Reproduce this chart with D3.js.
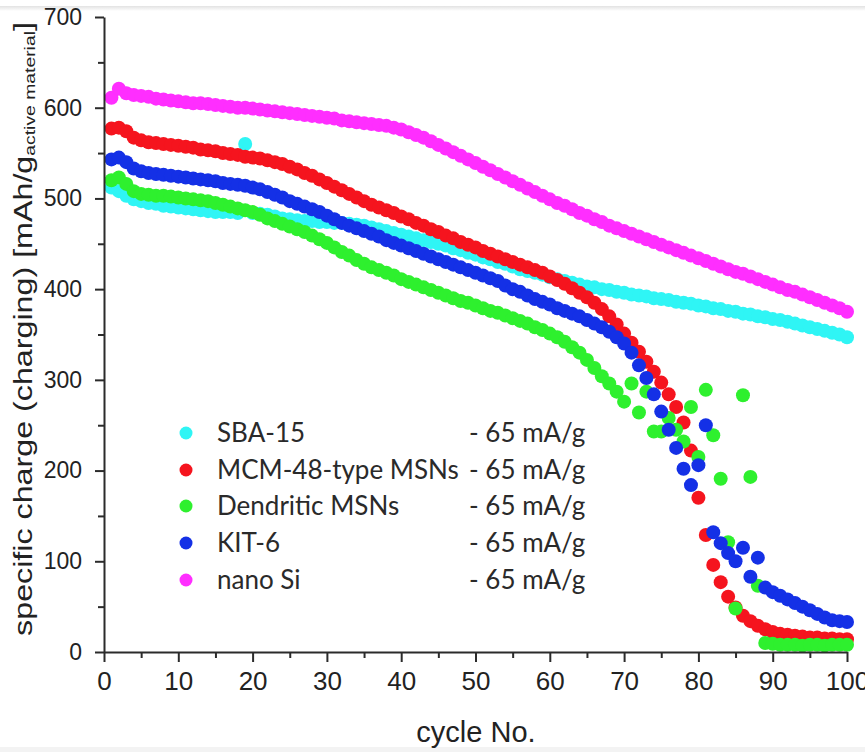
<!DOCTYPE html>
<html>
<head>
<meta charset="utf-8">
<script src="https://cdn.jsdelivr.net/npm/d3@7"></script>
<style>
  html, body { margin: 0; padding: 0; background: #fff; }
  svg { display: block; }
</style>
</head>
<body>
<svg id="chart" width="865" height="752"></svg>
<script>
// Charging capacity per cycle for each anode material (mAh/g of active material)
const cycles = d3.range(1, 101);

const sba15 = [
  512, 508, 503, 499, 497, 495, 494, 492, 491, 490,
  489, 488, 487, 486, 485, 485, 485, 484, 560, 484,
  483, 482, 480, 478, 477, 476, 475, 475, 474, 474,
  473, 473, 472, 471, 470, 468, 466, 464, 462, 460,
  458, 456, 454, 452, 450, 448, 445, 443, 440, 438,
  435, 433, 430, 428, 425, 422, 420, 418, 416, 413,
  411, 409, 407, 405, 403, 402, 400, 399, 397, 396,
  394, 393, 392, 390, 389, 388, 386, 385, 384, 382,
  381, 379, 378, 376, 375, 373, 372, 370, 369, 367,
  366, 364, 362, 360, 358, 356, 354, 352, 350, 347
];

const mcm48 = [
  577, 578, 574, 567, 564, 562, 561, 560, 559, 558,
  557, 556, 554, 553, 552, 550, 549, 548, 546, 545,
  544, 542, 540, 538, 535, 532, 528, 525, 521, 517,
  513, 509, 505, 501, 497, 493, 490, 487, 484, 480,
  477, 473, 470, 466, 463, 459, 456, 452, 449, 446,
  442, 439, 436, 433, 430, 427, 424, 421, 418, 414,
  410, 406, 401, 396, 391, 385, 378, 370, 361, 351,
  341, 331, 320, 309, 297, 284, 270, 253, 222, 170,
  129, 96, 77, 61, 49, 40, 34, 29, 25, 22,
  20, 19, 18, 17, 16, 16, 15, 15, 14, 14
];

const dendritic = [
  520, 523, 516, 508, 505, 504, 503, 503, 502, 501,
  500, 499, 498, 497, 495, 493, 491, 489, 487, 485,
  482, 478, 475, 472, 469, 466, 463, 459, 455, 451,
  446, 441, 437, 432, 428, 424, 421, 418, 415, 411,
  408, 405, 402, 399, 396, 393, 390, 387, 385, 382,
  379, 376, 374, 371, 368, 365, 362, 358, 355, 351,
  347, 342, 336, 330, 322, 313, 304, 296, 287, 276,
  296, 264, 287, 243, 243, 258, 245, 232, 270, 215,
  289, 239, 191, 121, 48, 283, 193, 73, 10, 9,
  8, 8, 8, 7, 8, 8, 7, 8, 8, 8
];

const kit6 = [
  543, 545, 540, 533, 530, 528, 527, 526, 525, 524,
  523, 522, 521, 520, 519, 517, 516, 515, 514, 512,
  510, 507, 504, 501, 497, 494, 491, 488, 485, 481,
  477, 473, 470, 467, 464, 461, 458, 454, 451, 448,
  445, 442, 439, 436, 433, 430, 427, 424, 421, 418,
  415, 412, 409, 404, 400, 397, 393, 389, 386, 383,
  379, 376, 373, 370, 366, 362, 358, 353, 347, 340,
  330, 316, 302, 284, 265, 245, 225, 202, 184, 206,
  250, 132, 120, 109, 100, 115, 83, 104, 71, 66,
  62, 58, 54, 50, 46, 42, 38, 35, 34, 33
];

const nanoSi = [
  611, 621, 616, 614, 613, 612, 610, 609, 608, 607,
  606, 605, 605, 604, 603, 602, 601, 600, 600, 599,
  598, 597, 596, 595, 594, 593, 592, 591, 590, 589,
  588, 586, 585, 584, 583, 582, 581, 580, 578, 576,
  573, 570, 567, 563, 559, 555, 551, 547, 543, 539,
  535, 531, 527, 523, 519, 515, 511, 507, 503, 499,
  495, 492, 488, 484, 481, 477, 474, 470, 467, 464,
  461, 458, 455, 452, 449, 446, 443, 440, 437, 434,
  431, 428, 425, 422, 419, 417, 414, 411, 408, 405,
  402, 399, 397, 394, 391, 388, 385, 382, 379, 375
];

const seriesNames = ["SBA-15", "MCM-48-type MSNs", "Dendritic MSNs", "KIT-6", "nano Si"];
const seriesColors = ["#2ff5f5", "#f5141e", "#2ef02e", "#1430e6", "#ff2eff"];
const seriesValues = [sba15, mcm48, dendritic, kit6, nanoSi];
const currentLabel = "- 65 mA/g";

const xMajorTicks = [0, 10, 20, 30, 40, 50, 60, 70, 80, 90, 100];
const xMinorTicks = [5, 15, 25, 35, 45, 55, 65, 75, 85, 95];
const yMajorTicks = [0, 100, 200, 300, 400, 500, 600, 700];
const yMinorTicks = [50, 150, 250, 350, 450, 550, 650];

const svg = d3.select("#chart");

// thin page rule along the top edge and pale strip along the bottom
const defs = svg.append("defs");
const grad = defs.append("linearGradient").attr("id", "topShade")
  .attr("x1", 0).attr("y1", 0).attr("x2", 0).attr("y2", 1);
grad.append("stop").attr("offset", "0%").attr("stop-color", "#e2e2e2");
grad.append("stop").attr("offset", "100%").attr("stop-color", "#ffffff");
svg.append("rect").attr("x", 0).attr("y", 6).attr("width", 865).attr("height", 5)
  .attr("fill", "url(#topShade)");
svg.append("rect").attr("x", 0).attr("y", 747).attr("width", 865).attr("height", 5)
  .attr("fill", "#f3f3f3");

const x = d3.scaleLinear().domain([0, 100]).range([104, 847]);
const y = d3.scaleLinear().domain([0, 700]).range([652, 17]);

const axisColor = "#2b2b2b";
const tickFont = "'Liberation Sans', Arial, sans-serif";

// data markers, drawn in legend order
const dotR = 7;
seriesValues.forEach((vals, i) => {
  svg.append("g")
    .selectAll("circle")
    .data(vals)
    .join("circle")
    .attr("cx", (d, j) => x(cycles[j]))
    .attr("cy", d => y(d))
    .attr("r", dotR)
    .attr("fill", seriesColors[i]);
});

// y axis
const yAxis = svg.append("g").attr("transform", "translate(104,0)")
  .call(d3.axisLeft(y).tickValues(yMajorTicks).tickSize(9).tickSizeOuter(0).tickPadding(13));
svg.append("g").attr("transform", "translate(104,0)")
  .call(d3.axisLeft(y).tickValues(yMinorTicks).tickSize(6).tickSizeOuter(0).tickFormat(""))
  .select(".domain").remove();

// x axis
const xAxis = svg.append("g").attr("transform", "translate(0,652)")
  .call(d3.axisBottom(x).tickValues(xMajorTicks).tickSize(10).tickSizeOuter(0).tickPadding(10));
svg.append("g").attr("transform", "translate(0,652)")
  .call(d3.axisBottom(x).tickValues(xMinorTicks).tickSize(6).tickSizeOuter(0).tickFormat(""))
  .select(".domain").remove();

svg.selectAll(".domain").attr("stroke", axisColor).attr("stroke-width", 2);
svg.selectAll(".tick line").attr("stroke", axisColor).attr("stroke-width", 2);
yAxis.selectAll(".tick text").attr("font-family", tickFont).attr("font-size", 23)
  .attr("fill", "#222");
xAxis.selectAll(".tick text").attr("font-family", tickFont).attr("font-size", 26)
  .attr("fill", "#222");

// axis titles
svg.append("text")
  .attr("x", 476).attr("y", 742)
  .attr("text-anchor", "middle")
  .attr("font-family", tickFont).attr("font-size", 29).attr("fill", "#222")
  .text("cycle No.");

// the vertical title is set wide along its length
const yTitle = svg.append("text")
  .attr("transform", "translate(32,329) rotate(-90) scale(1.29,1)")
  .attr("text-anchor", "middle")
  .attr("font-family", tickFont).attr("font-size", 25).attr("fill", "#222");
yTitle.append("tspan").text("specific charge (charging) [mAh/g");
yTitle.append("tspan").attr("font-size", 15).attr("dy", 3).text("active material");
yTitle.append("tspan").attr("dy", -3).text("]");

// legend
const legendFont = "Lato, 'Open Sans', sans-serif";
const legendRows = [433, 470, 506, 543, 580];
const legend = svg.append("g");
seriesNames.forEach((name, i) => {
  const row = legend.append("g").attr("transform", `translate(0,${legendRows[i]})`);
  row.append("circle").attr("cx", 186).attr("cy", 0).attr("r", 6.5).attr("fill", seriesColors[i]);
  row.append("text").attr("x", 217).attr("y", 0).attr("dy", "0.36em")
    .attr("font-family", legendFont).attr("font-size", 26).attr("fill", "#2a2a2a")
    .text(name);
  row.append("text").attr("x", 469).attr("y", 0).attr("dy", "0.36em")
    .attr("font-family", legendFont).attr("font-size", 26).attr("fill", "#2a2a2a")
    .text(currentLabel);
});
</script>
</body>
</html>
